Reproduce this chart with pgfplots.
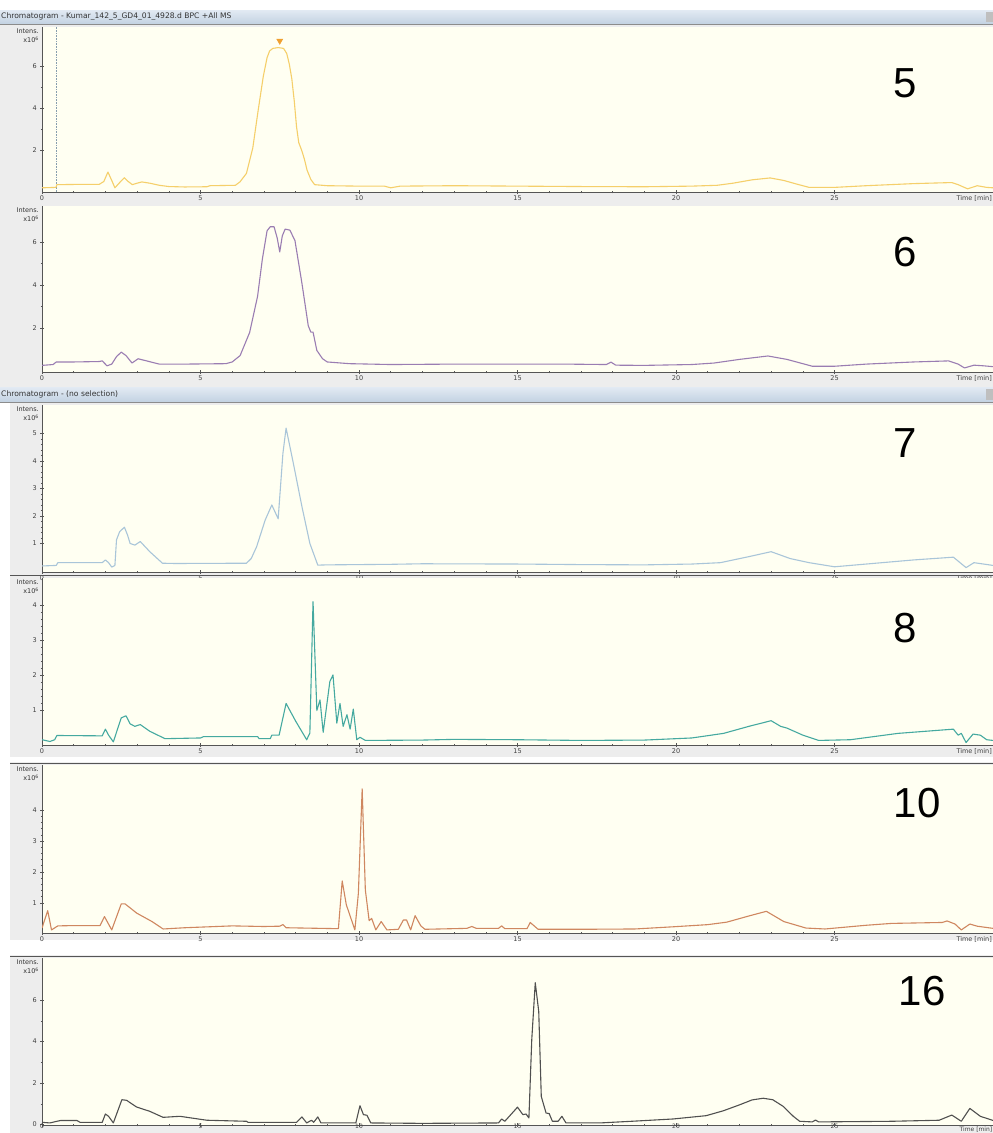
\documentclass[border=0pt]{standalone}
\usepackage{pgfplots}
\pgfplotsset{compat=1.18}
\usepackage{fontspec}
\setmainfont{DejaVu Sans}
\newfontfamily\bigfont{Liberation Sans}

\definecolor{plotbg}{HTML}{FFFFF2}
\definecolor{panelgray}{HTML}{EDEDED}
\definecolor{axisgray}{HTML}{555555}
\definecolor{barTop}{HTML}{E2EAF3}
\definecolor{barBot}{HTML}{C3D2E2}
\definecolor{cYellow}{HTML}{F5CF6A}
\definecolor{cPurple}{HTML}{9A7DB2}
\definecolor{cBlue}{HTML}{A9C5D9}
\definecolor{cTeal}{HTML}{45A9A0}
\definecolor{cCopper}{HTML}{CF8760}
\definecolor{cDark}{HTML}{505050}
\definecolor{cMarker}{HTML}{F0A030}

\pgfplotsset{
  chrom/.style={
    scale only axis, width=951pt,
    xmin=0, xmax=30,
    axis background/.style={fill=plotbg},
    axis x line=bottom, axis y line=left,
    axis line style={-, draw=axisgray, line width=0.7pt},
    xtick={0,5,...,25}, minor x tick num=4,
    minor y tick num=1,
    tick align=center,
    major tick length=3.5pt, minor tick length=2.5pt,
    tick style={draw=axisgray, line width=0.5pt},
    tick label style={font=\fontsize{6.5}{7}\selectfont, text=black!75},
    xticklabel style={yshift=1.5pt},
    /pgf/number format/assume math mode=true,
    xlabel={Time [min]},
    every axis x label/.style={at={(rel axis cs:1,0)}, anchor=north east,
      font=\fontsize{6.5}{7}\selectfont, text=black!75, inner sep=1pt, yshift=-2.5pt},
    ylabel={Intens.\\x10\textsuperscript{6}},
    every axis y label/.style={at={(rel axis cs:0,1)}, anchor=north east,
      align=right, font=\fontsize{6.5}{9}\selectfont, text=black!80,
      inner sep=0pt, xshift=-3pt, yshift=-2pt},
  },
  trace/.style={line width=1.1pt, line join=round, #1},
}

\begin{document}
\begin{tikzpicture}
\useasboundingbox (0pt,0pt) rectangle (993pt,-1133pt);
\fill[white] (0pt,0pt) rectangle (993pt,-1133pt);

% window backgrounds
\fill[panelgray] (0pt,-24pt) rectangle (993pt,-387pt);
\fill[panelgray] (10pt,-402pt) rectangle (993pt,-757pt);
\fill[panelgray] (10pt,-762pt) rectangle (993pt,-940pt);
\fill[panelgray] (10pt,-955pt) rectangle (993pt,-1133pt);

% title bars
\shade[top color=barTop, bottom color=barBot] (0pt,-10pt) rectangle (993pt,-24pt);
\draw[black!45, line width=0.6pt] (0pt,-24pt) -- (993pt,-24pt);
\node[anchor=west, inner sep=0pt, font=\fontsize{7.6}{8}\selectfont, text=black!80]
  at (1pt,-17pt) {Chromatogram - Kumar\_142\_5\_GD4\_01\_4928.d BPC +All MS};
\fill[black!25] (986pt,-12pt) rectangle (993pt,-22pt);

\shade[top color=barTop, bottom color=barBot] (0pt,-387pt) rectangle (993pt,-402pt);
\draw[black!45, line width=0.6pt] (0pt,-402pt) -- (993pt,-402pt);
\node[anchor=west, inner sep=0pt, font=\fontsize{7.6}{8}\selectfont, text=black!80]
  at (1pt,-394.5pt) {Chromatogram - (no selection)};
\fill[black!25] (986pt,-389pt) rectangle (993pt,-400pt);

% ---------------- sample 5 ----------------
\begin{axis}[chrom, height=165pt, at={(42pt,-192pt)}, anchor=south west,
  ymin=0, ymax=7.86, ytick={2,4,6}]
\addplot[densely dotted, color=cBlue!80!black, line width=0.6pt] coordinates {(0.45,0) (0.45,7.86)};
\addplot[trace=cYellow] coordinates {
(0,0.2) (0.44,0.22) (0.47,0.35) (1.0,0.36) (1.8,0.36) (1.95,0.5) (2.08,0.95) (2.2,0.55)
(2.3,0.2) (2.45,0.45) (2.6,0.68) (2.72,0.5) (2.85,0.35) (3.0,0.42) (3.15,0.48) (3.4,0.42)
(3.7,0.32) (4.0,0.26) (4.5,0.24) (5.2,0.25) (5.3,0.3) (6.1,0.32) (6.25,0.49) (6.45,0.89)
(6.65,2.1) (6.82,3.9) (6.98,5.5) (7.1,6.4) (7.18,6.72) (7.28,6.84) (7.45,6.88) (7.62,6.84)
(7.72,6.6) (7.8,6.1) (7.88,5.4) (7.96,4.3) (8.03,3.1) (8.1,2.35) (8.2,1.95) (8.28,1.55)
(8.36,1.05) (8.48,0.6) (8.6,0.35) (9.0,0.3) (10,0.28) (10.8,0.28) (11.0,0.2) (11.3,0.28)
(13,0.3) (15,0.28) (17,0.26) (19,0.25) (20.5,0.28) (21.3,0.32) (21.8,0.42) (22.4,0.58)
(22.97,0.67) (23.4,0.55) (23.8,0.38) (24.2,0.22) (25,0.22) (26,0.3) (27.5,0.4) (28.7,0.45)
(28.9,0.35) (29.2,0.15) (29.5,0.3) (29.8,0.22) (30,0.2)};
\addplot[only marks, mark=triangle*, mark size=3.5pt, color=cMarker,
  mark options={rotate=180}] coordinates {(7.5,7.2)};
\end{axis}

% ---------------- sample 6 ----------------
\begin{axis}[chrom, height=166pt, at={(42pt,-372pt)}, anchor=south west,
  ymin=-0.07, ymax=7.7, ytick={2,4,6}]
\addplot[trace=cPurple] coordinates {
(0,0.24) (0.35,0.28) (0.45,0.4) (1.0,0.4) (1.8,0.42) (1.9,0.45) (2.05,0.22) (2.2,0.3)
(2.35,0.65) (2.5,0.86) (2.65,0.7) (2.84,0.35) (3.03,0.55) (3.3,0.45) (3.7,0.3) (4.5,0.3)
(5.8,0.32) (6.0,0.4) (6.25,0.7) (6.55,1.78) (6.8,3.47) (6.95,5.2) (7.1,6.54) (7.2,6.73)
(7.32,6.73) (7.42,6.2) (7.5,5.55) (7.58,6.3) (7.67,6.62) (7.82,6.57) (7.98,6.08) (8.2,4.08)
(8.4,2.09) (8.48,1.8) (8.55,1.8) (8.67,0.94) (8.85,0.55) (9.0,0.4) (9.7,0.32) (11,0.28)
(13,0.3) (15,0.3) (16.5,0.3) (17.8,0.28) (17.95,0.39) (18.1,0.25) (19,0.24) (20.5,0.28)
(21.2,0.35) (22.0,0.52) (22.9,0.68) (23.5,0.52) (24.3,0.2) (25,0.2) (26,0.3) (27.5,0.4)
(28.6,0.45) (28.9,0.3) (29.1,0.12) (29.4,0.25) (29.7,0.22) (30,0.18)};
\end{axis}

% ---------------- sample 7 ----------------
\begin{axis}[chrom, height=167pt, at={(42pt,-572pt)}, anchor=south west,
  ymin=-0.04, ymax=6.04, ytick={1,2,3,4,5}, minor y tick num=4]
\addplot[trace=cBlue] coordinates {
(0,0.18) (0.45,0.2) (0.5,0.3) (1.9,0.3) (2.0,0.4) (2.1,0.3) (2.2,0.14) (2.3,0.2)
(2.35,1.13) (2.45,1.43) (2.6,1.59) (2.7,1.3) (2.78,1.0) (2.93,0.94) (3.1,1.07) (3.4,0.7)
(3.8,0.28) (4.2,0.27) (6.45,0.28) (6.6,0.45) (6.77,0.88) (7.04,1.85) (7.25,2.4) (7.45,1.9)
(7.6,4.28) (7.7,5.2) (7.93,3.91) (8.2,2.34) (8.45,1.0) (8.7,0.21) (9.0,0.22) (11,0.24)
(12,0.26) (15,0.25) (17,0.23) (19,0.22) (20.5,0.25) (21.4,0.3) (22.3,0.52) (23.0,0.7)
(23.6,0.45) (24.2,0.3) (25.0,0.15) (26.0,0.25) (27.5,0.4) (28.75,0.5) (29.15,0.12)
(29.4,0.3) (29.7,0.25) (30,0.2)};
\end{axis}

% ---------------- sample 8 ----------------
\draw[axisgray, line width=0.8pt] (10pt,-575pt) -- (993pt,-575pt);
\begin{axis}[chrom, height=167pt, at={(42pt,-745pt)}, anchor=south west,
  ymin=0.02, ymax=4.76, ytick={1,2,3,4}, minor y tick num=4]
\addplot[trace=cTeal] coordinates {
(0,0.17) (0.25,0.12) (0.4,0.17) (0.47,0.29) (1.9,0.28) (2.0,0.47) (2.1,0.3) (2.25,0.11)
(2.5,0.79) (2.65,0.85) (2.78,0.62) (2.93,0.55) (3.1,0.6) (3.4,0.41) (3.88,0.2) (5.0,0.22)
(5.1,0.26) (6.8,0.26) (6.85,0.2) (7.2,0.2) (7.25,0.3) (7.48,0.3) (7.7,1.2) (8.0,0.7)
(8.35,0.17) (8.45,0.36) (8.55,4.09) (8.67,1.0) (8.77,1.3) (8.87,0.38) (9.08,1.82)
(9.18,2.01) (9.3,0.64) (9.4,1.2) (9.5,0.55) (9.62,0.88) (9.72,0.47) (9.82,1.04) (9.93,0.17)
(10.03,0.24) (10.2,0.15) (12,0.16) (13,0.18) (15,0.17) (17,0.15) (19,0.16) (20.5,0.22)
(21.5,0.35) (22.3,0.55) (23.0,0.71) (23.3,0.55) (23.5,0.5) (24.0,0.3) (24.5,0.15)
(25.5,0.17) (27,0.35) (28.75,0.47) (28.9,0.3) (29.0,0.35) (29.15,0.09) (29.37,0.33)
(29.6,0.3) (29.8,0.17) (30,0.15)};
\end{axis}

% ---------------- sample 10 ----------------
\draw[axisgray, line width=0.8pt] (10pt,-763pt) -- (993pt,-763pt);
\begin{axis}[chrom, height=168pt, at={(42pt,-933pt)}, anchor=south west,
  ymin=0.03, ymax=5.45, ytick={1,2,3,4}, minor y tick num=4]
\addplot[trace=cCopper] coordinates {
(0,0.19) (0.18,0.75) (0.3,0.13) (0.5,0.26) (1.0,0.27) (1.83,0.27) (1.97,0.56) (2.2,0.13)
(2.5,0.97) (2.62,0.97) (2.99,0.67) (3.47,0.4) (3.82,0.16) (4.5,0.2) (6.0,0.26) (7.0,0.24)
(7.5,0.25) (7.6,0.3) (7.7,0.2) (9.35,0.17) (9.47,1.71) (9.6,0.94) (9.87,0.13) (9.98,1.31)
(10.1,4.68) (10.2,1.42) (10.32,0.43) (10.4,0.5) (10.53,0.13) (10.7,0.4) (10.88,0.13)
(11.24,0.15) (11.4,0.45) (11.5,0.45) (11.63,0.13) (11.77,0.59) (11.95,0.26) (12.08,0.15)
(13.4,0.18) (13.56,0.24) (13.7,0.18) (14.4,0.18) (14.5,0.26) (14.6,0.17) (15.3,0.17)
(15.4,0.37) (15.65,0.15) (17,0.15) (18.7,0.16) (19.9,0.23) (21.0,0.3) (21.6,0.38)
(22.3,0.58) (22.85,0.73) (23.4,0.4) (24.1,0.19) (24.7,0.16) (26.0,0.28) (26.8,0.34)
(28.4,0.37) (28.55,0.42) (28.8,0.32) (29.0,0.13) (29.27,0.32) (29.5,0.25) (30,0.18)};
\end{axis}

% ---------------- sample 16 ----------------
\draw[axisgray, line width=0.8pt] (10pt,-956pt) -- (993pt,-956pt);
\begin{axis}[chrom, height=167pt, at={(42pt,-1125pt)}, anchor=south west,
  ymin=-0.02, ymax=8.03, ytick={0,2,4,6},
  xticklabel style={yshift=1.5pt, inner sep=0.5pt, font=\fontsize{6}{6.5}\selectfont},
  every axis x label/.append style={yshift=1.5pt, inner sep=0.5pt, font=\fontsize{6}{6.5}\selectfont}]
\addplot[trace=cDark] coordinates {
(0,0.11) (0.25,0.08) (0.47,0.16) (0.6,0.2) (1.1,0.2) (1.2,0.11) (1.9,0.11) (2.0,0.51)
(2.1,0.4) (2.25,0.08) (2.52,1.2) (2.67,1.17) (2.98,0.85) (3.4,0.64) (3.82,0.35) (4.35,0.4)
(5.2,0.21) (6.45,0.16) (6.5,0.11) (8.03,0.11) (8.2,0.37) (8.35,0.08) (8.5,0.21) (8.57,0.11)
(8.7,0.37) (8.8,0.08) (9.9,0.08) (10.03,0.91) (10.14,0.48) (10.25,0.45) (10.37,0.08)
(12,0.06) (14.4,0.08) (14.5,0.27) (14.6,0.16) (15.0,0.84) (15.17,0.48) (15.27,0.51)
(15.36,0.32) (15.45,4.1) (15.56,6.84) (15.67,5.45) (15.75,1.36) (15.9,0.56) (16.0,0.53)
(16.1,0.16) (16.28,0.16) (16.4,0.4) (16.53,0.08) (17.6,0.08) (18.6,0.16) (19.9,0.27)
(20.95,0.43) (21.5,0.67) (22.0,0.95) (22.4,1.19) (22.75,1.27) (23.05,1.2) (23.38,0.88)
(23.7,0.4) (23.9,0.16) (24.3,0.13) (24.4,0.22) (24.5,0.13) (26.8,0.16) (28.3,0.21)
(28.7,0.46) (29.0,0.16) (29.27,0.78) (29.6,0.4) (30,0.2)};
\end{axis}

% sample numbers
\begin{scope}[every node/.style={font=\bigfont\fontsize{42}{42}\selectfont, inner sep=0pt}]
\node at (905pt,-83pt) {5};
\node at (905pt,-252pt) {6};
\node at (905pt,-443pt) {7};
\node at (905pt,-628pt) {8};
\node at (917pt,-803pt) {10};
\node at (922pt,-991pt) {16};
\end{scope}
\end{tikzpicture}
\end{document}
